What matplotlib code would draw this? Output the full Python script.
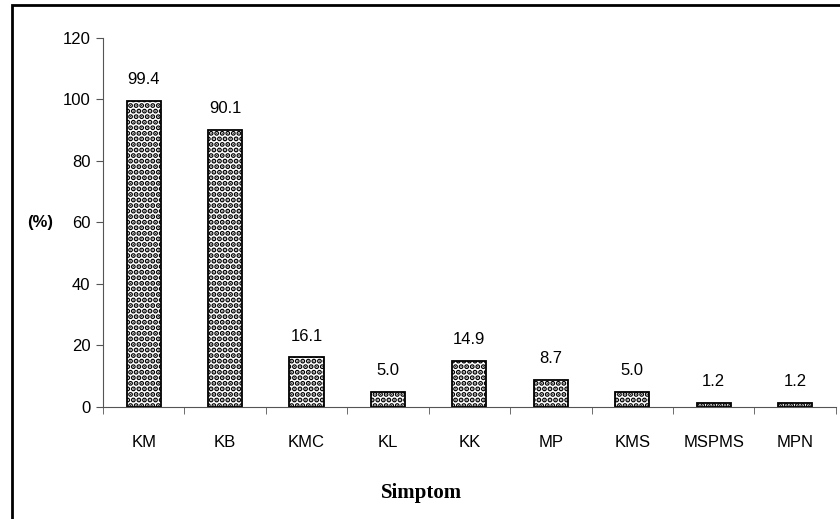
import matplotlib
matplotlib.use('Agg')
import matplotlib.pyplot as plt
from matplotlib.patches import Rectangle

categories = ['KM', 'KB', 'KMC', 'KL', 'KK', 'MP', 'KMS', 'MSPMS', 'MPN']
values = [99.4, 90.1, 16.1, 5.0, 14.9, 8.7, 5.0, 1.2, 1.2]
yticks = [0, 20, 40, 60, 80, 100, 120]

plt.rcParams['font.family'] = ['Liberation Sans', 'DejaVu Sans']
plt.rcParams['hatch.linewidth'] = 2.6

fig = plt.figure(figsize=(8.4, 5.19), dpi=100)
ax = fig.add_axes([0.1226, 0.2158, 0.8724, 0.711])

x = list(range(len(categories)))
bars = ax.bar(x, values, width=0.42, color='white', edgecolor='black',
              linewidth=1.3, hatch='...')
for xi, v in zip(x, values):
    ax.text(xi, v + 4.5, f'{v:.1f}', ha='center', va='bottom', fontsize=12)

ax.set_xlim(-0.5, len(categories) - 0.5)
ax.set_ylim(0, 120)
ax.set_yticks(yticks)
ax.set_yticklabels([str(t) for t in yticks], fontsize=12)
ax.set_xticks(x)
ax.set_xticklabels(categories, fontsize=12)
ax.tick_params(axis='x', length=0, pad=20)
# ticks between categories
ax.set_xticks([i - 0.5 for i in range(len(categories) + 1)], minor=True)
ax.tick_params(axis='x', which='minor', length=5, direction='out', color='#555555')
ax.tick_params(axis='y', length=5, direction='out', color='#555555', pad=4)

for s in ['top', 'right']:
    ax.spines[s].set_visible(False)
ax.spines['left'].set_color('#555555')
ax.spines['bottom'].set_color('#555555')

fig.text(40 / 840, 1 - 223 / 519, '(%)', ha='center', va='center',
         fontsize=12, fontweight='bold')
fig.text(421 / 840, 1 - 493 / 519, 'Simptom', ha='center', va='center',
         fontsize=15, fontweight='bold', family=['Liberation Serif', 'DejaVu Serif'])

# outer frame (cut on right and bottom in the original)
fig.patches.append(Rectangle((12 / 840, -0.1), 1.2, 1 - 5 / 519 + 0.1,
                             transform=fig.transFigure, fill=False,
                             edgecolor='black', linewidth=2))

fig.savefig('out.png', dpi=100)
